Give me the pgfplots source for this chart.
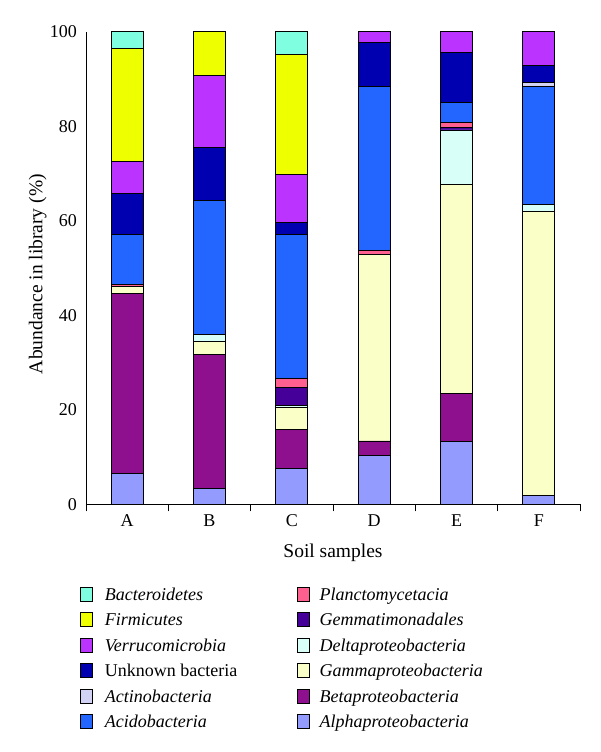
\documentclass[border=0pt]{standalone}
\usepackage{fontspec}
\setmainfont{Liberation Serif}
\usepackage{pgfplots}
\pgfplotsset{compat=1.18}
\definecolor{bact}{RGB}{128,255,224}
\definecolor{firm}{RGB}{238,255,0}
\definecolor{verr}{RGB}{187,51,255}
\definecolor{unk}{RGB}{0,0,176}
\definecolor{actino}{RGB}{210,210,245}
\definecolor{acido}{RGB}{34,102,255}
\definecolor{plancto}{RGB}{255,96,144}
\definecolor{gemm}{RGB}{68,0,153}
\definecolor{delta}{RGB}{216,255,248}
\definecolor{gamma}{RGB}{250,255,200}
\definecolor{beta}{RGB}{142,16,142}
\definecolor{alpha}{RGB}{148,155,255}
\pgfplotsset{
  sq/.style={legend image code/.code={\draw[##1,draw=black,line width=0.8pt] (0pt,-1pt) rectangle (12pt,13pt);}},
  seg/.style={fill=#1, draw=black, line width=0.9pt, forget plot}
}
\begin{document}
\begin{tikzpicture}
\useasboundingbox (-86pt,-247.7pt) rectangle (514pt,504.3pt);
\begin{axis}[
  scale only axis,
  width=494pt, height=472.6pt,
  ybar stacked, bar width=32pt,
  xmin=-0.5, xmax=5.5, ymin=0, ymax=100,
  axis x line*=bottom, axis y line*=left,
  axis line style={line width=0.9pt, -},
  clip=false,
  ytick={0,20,40,60,80,100},
  ytick style={draw=none},
  xtick={-0.5,0.5,1.5,2.5,3.5,4.5,5.5},
  xticklabels={},
  tick align=outside,
  major tick length=7pt,
  xtick style={draw=black, line width=0.9pt},
  extra x ticks={0,1,2,3,4,5},
  extra x tick labels={A,B,C,D,E,F},
  extra x tick style={major tick length=0pt},
  /pgf/number format/assume math mode=true,
  tick label style={font=\fontsize{18}{21}\selectfont},
  xticklabel style={anchor=base, yshift=-22.4pt},
  yticklabel style={anchor=east, inner sep=0pt, xshift=-2pt},
  label style={font=\fontsize{19.5}{23}\selectfont},
  xlabel={Soil samples},
  ylabel={Abundance in library (\%)},
  xlabel style={at={(axis description cs:0.5,-0.1121)}, anchor=base},
  ylabel style={at={(axis description cs:-0.0885,0.487)}, anchor=base},
  legend columns=2,
  legend style={font=\fontsize{18}{21}\selectfont, draw=none, fill=none,
    at={(axis description cs:0,0)}, anchor=north west, xshift=-6pt, yshift=-82.7pt,
    inner sep=0pt, outer sep=0pt,
    nodes={inner sep=0pt, outer sep=0pt, text height=13pt, text depth=5pt, anchor=base west},
    row sep=7pt,
    /tikz/every odd column/.style={column sep=12pt},
    /tikz/every even column/.style={column sep=0pt}},
]
% stacking order bottom -> top
\addplot[seg=alpha]   coordinates {(0,6.6) (1,3.3) (2,7.5) (3,10.4) (4,13.3) (5,1.8)};
\addplot[seg=beta]    coordinates {(0,38.0) (1,28.4) (2,8.3) (3,3.0) (4,10.1) (5,0)};
\addplot[seg=gamma]   coordinates {(0,1.4) (1,2.8) (2,4.7) (3,39.5) (4,44.3) (5,60.1)};
\addplot[seg=delta]   coordinates {(0,0) (1,1.5) (2,0.4) (3,0) (4,11.5) (5,1.5)};
\addplot[seg=gemm]    coordinates {(0,0) (1,0) (2,3.9) (3,0) (4,0.5) (5,0)};
\addplot[seg=plancto] coordinates {(0,0.5) (1,0) (2,1.9) (3,0.9) (4,1.0) (5,0)};
\addplot[seg=acido]   coordinates {(0,10.5) (1,28.2) (2,30.4) (3,34.6) (4,4.3) (5,25.1)};
\addplot[seg=actino]  coordinates {(0,0) (1,0) (2,0) (3,0) (4,0) (5,0.8)};
\addplot[seg=unk]     coordinates {(0,8.8) (1,11.3) (2,2.5) (3,9.3) (4,10.6) (5,3.6)};
\addplot[seg=verr]    coordinates {(0,6.7) (1,15.3) (2,10.1) (3,2.3) (4,4.4) (5,7.1)};
\addplot[seg=firm]    coordinates {(0,24.0) (1,9.2) (2,25.5) (3,0) (4,0) (5,0)};
\addplot[seg=bact]    coordinates {(0,3.5) (1,0) (2,4.8) (3,0) (4,0) (5,0)};
% legend (row-major order)
\addlegendimage{sq, fill=bact}    \addlegendentry{\makebox[192pt][l]{\textit{Bacteroidetes}}}
\addlegendimage{sq, fill=plancto} \addlegendentry{\hspace*{-2pt}\textit{Planctomycetacia}}
\addlegendimage{sq, fill=firm}    \addlegendentry{\makebox[192pt][l]{\textit{Firmicutes}}}
\addlegendimage{sq, fill=gemm}    \addlegendentry{\hspace*{-2pt}\textit{Gemmatimonadales}}
\addlegendimage{sq, fill=verr}    \addlegendentry{\makebox[192pt][l]{\textit{Verrucomicrobia}}}
\addlegendimage{sq, fill=delta}   \addlegendentry{\hspace*{-2pt}\textit{Deltaproteobacteria}}
\addlegendimage{sq, fill=unk}     \addlegendentry{\makebox[192pt][l]{Unknown bacteria}}
\addlegendimage{sq, fill=gamma}   \addlegendentry{\hspace*{-2pt}\textit{Gammaproteobacteria}}
\addlegendimage{sq, fill=actino}  \addlegendentry{\makebox[192pt][l]{\textit{Actinobacteria}}}
\addlegendimage{sq, fill=beta}    \addlegendentry{\hspace*{-2pt}\textit{Betaproteobacteria}}
\addlegendimage{sq, fill=acido}   \addlegendentry{\makebox[192pt][l]{\textit{Acidobacteria}}}
\addlegendimage{sq, fill=alpha}   \addlegendentry{\hspace*{-2pt}\textit{Alphaproteobacteria}}
\end{axis}
\end{tikzpicture}
\end{document}
